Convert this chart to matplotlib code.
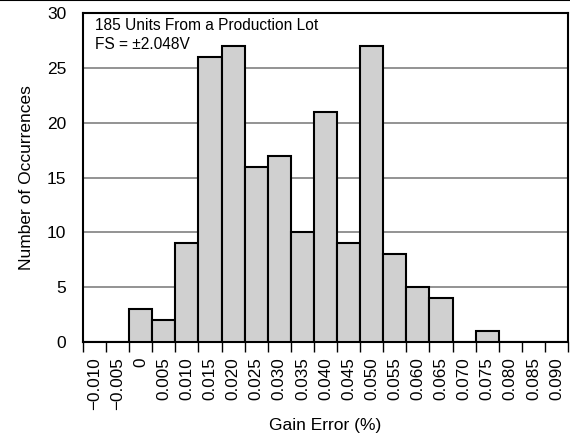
import matplotlib
matplotlib.use("Agg")
import matplotlib.pyplot as plt
import numpy as np

plt.rcParams['font.family'] = ['Liberation Sans', 'DejaVu Sans']

# histogram bins (Gain Error, %) and counts
bin_labels = ['\u22120.010', '\u22120.005', '0', '0.005', '0.010', '0.015', '0.020',
              '0.025', '0.030', '0.035', '0.040', '0.045', '0.050', '0.055',
              '0.060', '0.065', '0.070', '0.075', '0.080', '0.085', '0.090']
counts = [0, 0, 3, 2, 9, 26, 27, 16, 17, 10, 21, 9, 27, 8, 5, 4, 0, 1, 0, 0, 0]
y_ticks = [0, 5, 10, 15, 20, 25, 30]

fig = plt.figure(figsize=(5.7, 4.4), dpi=100)
ax = fig.add_axes([0.1456, 0.2227, 0.851, 0.7477])

x = np.arange(len(counts))
ax.bar(x, counts, width=1.0, color='#d0d0d0', edgecolor='black', linewidth=1.5, zorder=3)

ax.set_xlim(-0.5, len(counts) - 0.5)
ax.set_ylim(0, 30)
ax.set_yticks(y_ticks)
ax.tick_params(axis='y', length=0, pad=12, labelsize=12.5)
ax.yaxis.grid(True, color='#808080', linewidth=1.2, zorder=0)

# ticks at bin edges, labels centred on bars
ax.set_xticks(np.arange(len(counts) + 1) - 0.5)
ax.set_xticklabels([])
ax.set_xticks(x, minor=True)
ax.set_xticklabels(bin_labels, minor=True, rotation=90, fontsize=12.3)
ax.tick_params(axis='x', which='major', length=7, width=1, direction='out')
ax.tick_params(axis='x', which='minor', length=0, pad=11)

for s in ax.spines.values():
    s.set_linewidth(1.5)

ax.set_xlabel('Gain Error (%)', fontsize=12.5, labelpad=6)
ax.set_ylabel('Number of Occurrences', fontsize=12.5, labelpad=9)

ax.text(0.025, 0.985, '185 Units From a Production Lot\nFS = \u00b12.048V',
        transform=ax.transAxes, ha='left', va='top', fontsize=11.2, linespacing=1.35, zorder=4)

fig.add_artist(plt.Line2D([0, 1], [0.999, 0.999], color='black', linewidth=1.5))

fig.savefig('out.png', dpi=100)
